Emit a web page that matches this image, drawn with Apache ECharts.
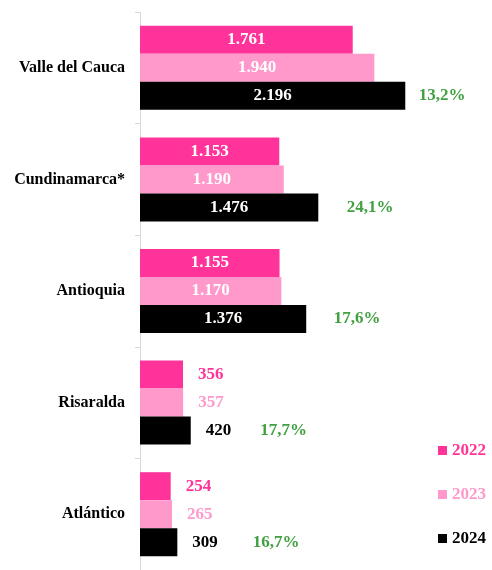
<!DOCTYPE html>
<html>
<head>
<meta charset="utf-8">
<script src="https://cdn.jsdelivr.net/npm/echarts@6/dist/echarts.min.js"></script>
<style>
  html, body { margin: 0; padding: 0; background: #fff; }
  #chart { width: 492px; height: 570px; }
</style>
</head>
<body>
<div id="chart"></div>
<script>
// departamentos
const categories = ["Valle del Cauca", "Cundinamarca*", "Antioquia", "Risaralda", "Atlántico"];
const years = ["2022", "2023", "2024"];
const v2022 = [1761, 1153, 1155, 356, 254];
const v2023 = [1940, 1190, 1170, 357, 265];
const v2024 = [2196, 1476, 1376, 420, 309];
const growth = ["13,2%", "24,1%", "17,6%", "17,7%", "16,7%"];

const colors = ["#FF3399", "#FF99CC", "#000000"];
const green = "#118811";
const font = "Liberation Serif";

// numero con punto de miles
function fmt(n) {
  return String(n).replace(/\B(?=(\d{3})+(?!\d))/g, ".");
}

function barData(vals, color) {
  return vals.map(function (v) {
    const inside = v >= 1000;
    return {
      value: v,
      label: {
        position: inside ? "inside" : "right",
        distance: 15,
        color: inside ? "#fff" : color
      }
    };
  });
}

// separacion del porcentaje respecto a la barra 2024
const pctGap = [13, 28, 27, 69, 75];

const chart = echarts.init(document.getElementById("chart"));
const allVals = [v2022, v2023, v2024];

const series = years.map(function (y, i) {
  return {
    name: y,
    type: "bar",
    barWidth: 28,
    barGap: "0%",
    itemStyle: { color: colors[i] },
    label: {
      show: true,
      fontFamily: font,
      fontWeight: "bold",
      fontSize: 17,
      formatter: function (p) { return fmt(p.value); }
    },
    data: barData(allVals[i], colors[i])
  };
});

series.push({
  type: "scatter",
  silent: true,
  symbolSize: 1,
  itemStyle: { color: "rgba(0,0,0,0)" },
  label: {
    show: true,
    position: "right",
    offset: [0, 28],
    color: green,
    fontFamily: font,
    fontWeight: "bold",
    fontSize: 17,
    formatter: function (p) { return growth[p.dataIndex]; }
  },
  data: v2024.map(function (v, i) {
    return { value: [v, i], label: { distance: pctGap[i] } };
  })
});

chart.setOption({
  animation: false,
  grid: { left: 140, top: 12, width: 302, height: 562 },
  legend: {
    orient: "vertical",
    right: 1,
    top: 437,
    itemWidth: 9,
    itemHeight: 9,
    itemGap: 27,
    icon: "rect",
    selectedMode: false,
    textStyle: { fontFamily: font, fontWeight: "bold", fontSize: 17 },
    data: years.map(function (y, i) {
      return { name: y, textStyle: { color: colors[i] } };
    })
  },
  xAxis: {
    type: "value",
    min: 0,
    max: 2500,
    show: false
  },
  yAxis: {
    type: "category",
    inverse: true,
    data: categories,
    axisLine: { show: true, lineStyle: { color: "#d9d9d9" } },
    axisTick: { show: true, length: 5, lineStyle: { color: "#d9d9d9" } },
    axisLabel: {
      margin: 15,
      color: "#000",
      fontFamily: font,
      fontWeight: "bold",
      fontSize: 16
    }
  },
  series: series
});
</script>
</body>
</html>
